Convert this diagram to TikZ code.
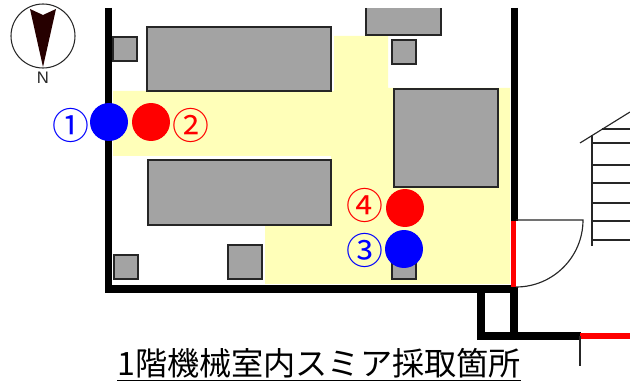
\documentclass[tikz,border=0pt]{standalone}
\usepackage{fontspec}
\setmainfont{Noto Sans CJK JP}
\newfontfamily\latinfont{Liberation Sans}
\definecolor{areayellow}{RGB}{255,255,185}
\tikzset{
    wall/.style={line width=4pt,black},
    redwall/.style={line width=3.4pt,red},
    thin line/.style={line width=0.65pt,black!85},
    machine/.style={draw=black!85,line width=0.8pt,fill=black!36},
    spot/.style={circle,minimum size=0.76cm,inner sep=0,fill=#1},
    spotlabel/.style={text=#1,font=\fontsize{21}{21}\selectfont,inner sep=0}
}
\begin{document}
\begin{tikzpicture}[x=0.02cm,y=-0.02cm]
    \useasboundingbox (0,0) rectangle (630,385);
    % sampling area
    \fill[areayellow] (113,91) -- (334,91) -- (334,36) -- (388,36) -- (388,88) -- (510,88)
        -- (510,284) -- (265,284) -- (265,225) -- (331,225) -- (331,156) -- (113,156) -- cycle;
    % machines
    \draw[machine] (147,27) rectangle (331,91);
    \draw[machine] (148,160) rectangle (331,225);
    \draw[machine] (394,89) rectangle (498,187);
    \draw[machine] (366,8) -- (366,35) -- (441,35) -- (441,8);
    \foreach \x/\y/\s in {113/37/24,392/40/24,114/255/24,228/245/34,392/255/24}
        \draw[machine] (\x,\y) rectangle ++(\s,\s);
    % walls
    \draw[wall] (108.5,8) -- (108.5,292);
    \draw[wall] (105,289) -- (516,289);
    \draw[wall] (514.5,8) -- (514.5,221);
    \draw[wall] (514,287) -- (514,336);
    \draw[wall] (481,290) -- (481,340);
    \draw[wall] (478,336) -- (581,336);
    \draw[redwall] (513.5,221) -- (513.5,287);
    \draw[redwall] (580,336) -- (630,336);
    \draw[thin line] (580,336) -- (580,366);
    % door
    \draw[thin line] (516,220) -- (583,220) arc (0:90:67);
    % stairs
    \draw[thin line] (580,143) -- (630,112);
    \draw[thin line] (592,135) -- (592,246);
    \foreach \y in {143,165,183,203,221,240}
        \draw[thin line] (592,\y) -- (630,\y);
    \draw[thin line] (602,129) -- (630,129);
    % compass
    \draw[line width=0.6pt,black!85] (43,36) circle (32);
    \fill[black!85!red] (30,9) -- (43,15) -- (56,9) -- (43,67) -- cycle;
    \node[font=\latinfont\fontsize{9.5}{9.5}\selectfont,inner sep=0,text=black!85] (north) at (43,77.5) {N};
    % sampling spots
    \node[spot=blue] (spota) at (109,122) {};
    \node[spot=red] (spotb) at (151,122) {};
    \node[spot=blue] (spotc) at (404,249) {};
    \node[spot=red] (spotd) at (405,208) {};
    \node[spotlabel=blue] (labela) at (70.5,125) {①};
    \node[spotlabel=red] (labelb) at (190.5,125) {②};
    \node[spotlabel=blue] (labelc) at (364.5,250) {③};
    \node[spotlabel=red] (labeld) at (364.5,205) {④};
    \node[font=\fontsize{18.3}{18}\selectfont,inner sep=0] (title) at (319,365) {\underline{1階機械室内スミア採取箇所}};
\end{tikzpicture}
\end{document}
